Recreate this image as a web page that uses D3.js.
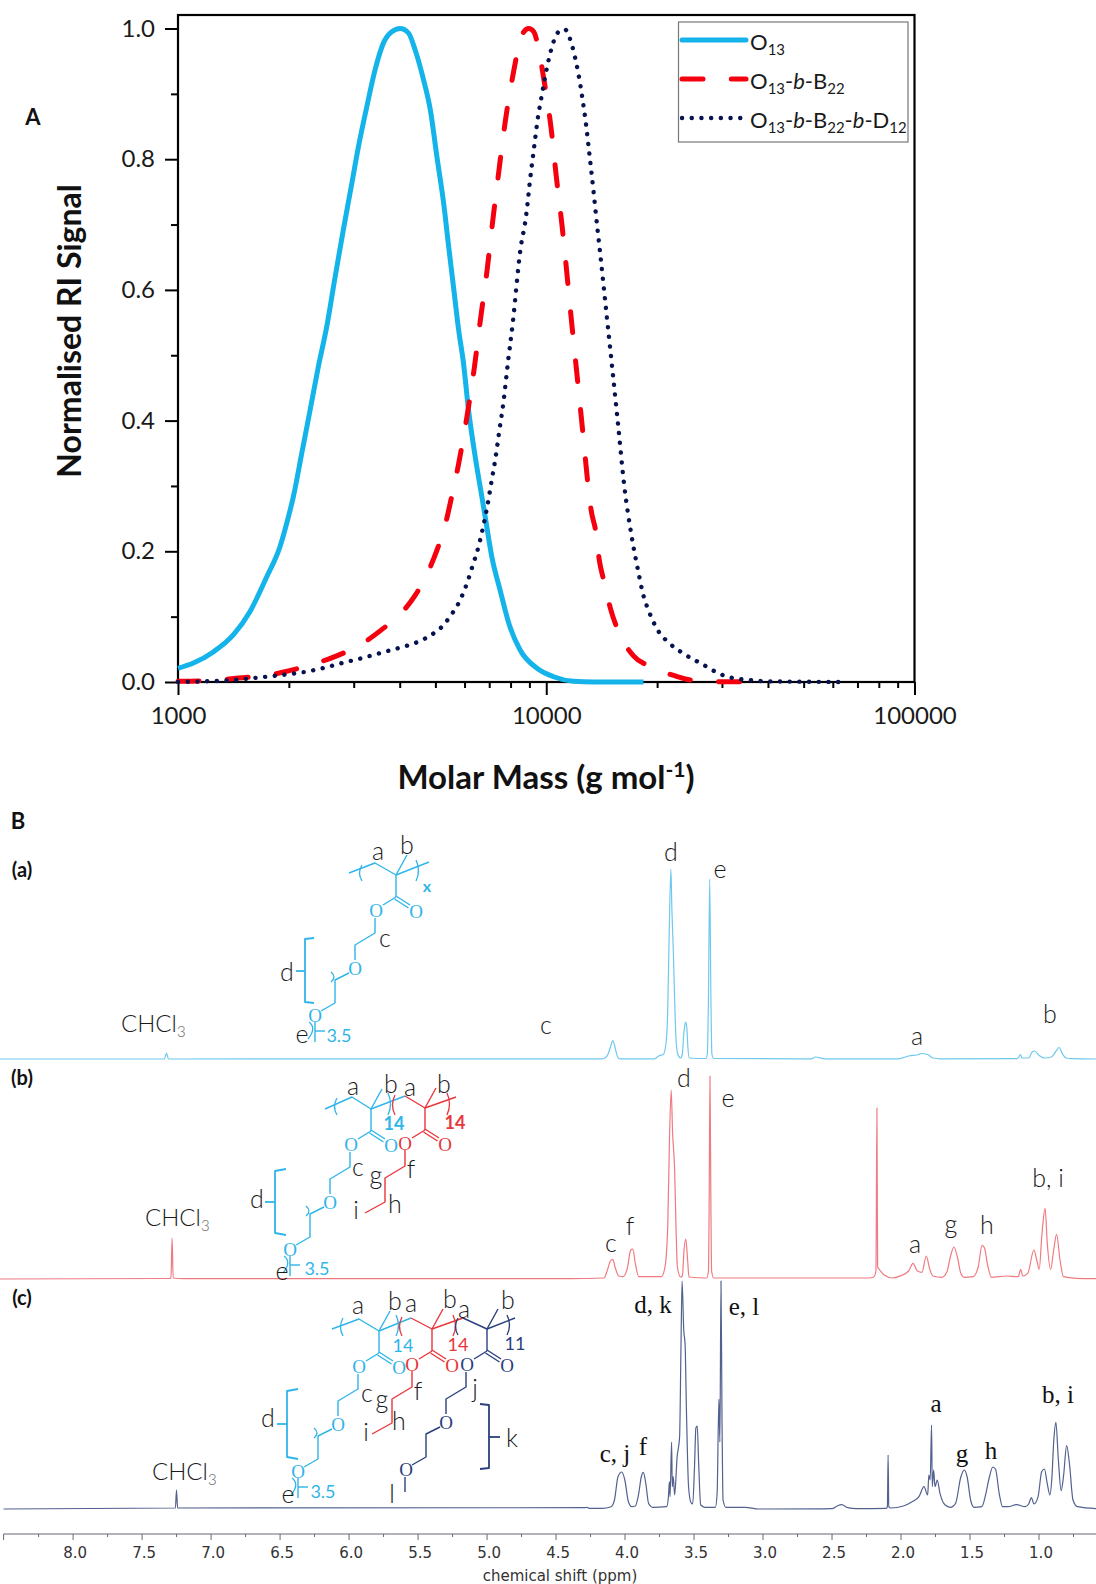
<!DOCTYPE html>
<html>
<head>
<meta charset="utf-8">
<title>SEC traces and NMR spectra</title>
<script src="https://cdn.jsdelivr.net/npm/d3@7"></script>
<style>
  html, body { margin: 0; padding: 0; background: #fff; }
  svg { display: block; font-family: Lato, "Open Sans", sans-serif; }
</style>
</head>
<body>
<div id="chart"></div>
<script>
// panel A - molar mass distributions
const massO13 = [1000, 1101, 1247, 1413, 1569, 1742, 1892, 1995, 2058, 2168, 2284, 2406, 2535, 2671, 2812, 2965, 3090, 3258, 3430, 3614, 3806, 4010, 4227, 4406, 4645, 4842, 5047, 5264, 5433, 5598, 5781, 5960, 6152, 6412, 6683, 6839, 7112, 7499, 7943, 8492, 9441, 10470, 11858, 13459, 18365];
const signalO13 = [0.021, 0.029, 0.046, 0.072, 0.108, 0.161, 0.207, 0.253, 0.284, 0.350, 0.416, 0.483, 0.544, 0.620, 0.692, 0.763, 0.819, 0.881, 0.937, 0.978, 0.995, 1.000, 0.993, 0.967, 0.921, 0.876, 0.804, 0.733, 0.666, 0.605, 0.539, 0.488, 0.416, 0.345, 0.284, 0.250, 0.192, 0.140, 0.087, 0.049, 0.021, 0.008, 0.001, 0, 0];

const massB22 = [1000, 1274, 1459, 1742, 1995, 2382, 2698, 3189, 3553, 4093, 4423, 4790, 5043, 5316, 5483, 5768, 6086, 6375, 6632, 6914, 7161, 7436, 7740, 8147, 8400, 8630, 8954, 9250, 9441, 9840, 10300, 10650, 11040, 11750, 12100, 12620, 12970, 13240, 13650, 13930, 14380, 14930, 15630, 17260, 19050, 22180, 25400, 29900, 34700];
const signalB22 = [0.001, 0.003, 0.006, 0.010, 0.017, 0.029, 0.040, 0.060, 0.079, 0.109, 0.134, 0.170, 0.201, 0.240, 0.273, 0.331, 0.405, 0.480, 0.556, 0.632, 0.707, 0.782, 0.858, 0.933, 0.970, 0.992, 1.000, 0.995, 0.980, 0.924, 0.849, 0.773, 0.698, 0.544, 0.474, 0.372, 0.304, 0.263, 0.228, 0.187, 0.152, 0.113, 0.080, 0.040, 0.024, 0.010, 0.002, 0.0005, 0.0005];

const massD12 = [1000, 1183, 1413, 1603, 1932, 2188, 2466, 2786, 3133, 3524, 3972, 4467, 4989, 5260, 5458, 5808, 6082, 6310, 6546, 6730, 6902, 7112, 7268, 7464, 7656, 7870, 8110, 8500, 8810, 9057, 9268, 9487, 9683, 10140, 10470, 10760, 11220, 11570, 11960, 12250, 12500, 12820, 13090, 13450, 13800, 13990, 14350, 15630, 16290, 17020, 17820, 18270, 18970, 20000, 21730, 23990, 26790, 29720, 31620, 35480, 39800, 49000, 63100];
const signalD12 = [0, 0.001, 0.003, 0.006, 0.011, 0.015, 0.021, 0.029, 0.036, 0.044, 0.052, 0.061, 0.076, 0.087, 0.099, 0.123, 0.150, 0.178, 0.207, 0.236, 0.266, 0.309, 0.340, 0.386, 0.429, 0.489, 0.549, 0.660, 0.712, 0.773, 0.818, 0.863, 0.892, 0.951, 0.980, 0.994, 0.999, 0.986, 0.957, 0.928, 0.898, 0.854, 0.809, 0.749, 0.689, 0.659, 0.600, 0.400, 0.300, 0.226, 0.166, 0.137, 0.109, 0.081, 0.058, 0.041, 0.026, 0.012, 0.007, 0.003, 0.001, 0.0005, 0];

const massMajorTicks = [1000, 10000, 100000];
const massMinorTicks = [2000, 3000, 4000, 5000, 6000, 7000, 8000, 9000, 20000, 30000, 40000, 50000, 60000, 70000, 80000, 90000];
const signalMajorTicks = [0, 0.2, 0.4, 0.6, 0.8, 1.0];
const signalMinorTicks = [0.1, 0.3, 0.5, 0.7, 0.9];

// panel B - 1H NMR traces, ppm against peak height
const ppmA = [8.53, 7.335, 7.32, 7.305, 4.162, 4.136, 4.116, 4.098, 4.086, 4.073, 4.061, 4.048, 4.035, 3.783, 3.753, 3.72, 3.70, 3.687, 3.677, 3.664, 3.657, 3.647, 3.637, 3.627, 3.614, 3.594, 3.581, 3.571, 3.564, 3.556, 3.548, 3.541, 3.531, 3.41, 3.40, 3.392, 3.383, 3.374, 3.367, 3.354, 2.648, 2.617, 2.547, 2.017, 1.941, 1.866, 1.853, 1.803, 1.765, 1.714, 1.159, 1.142, 1.131, 1.119, 1.071, 1.046, 1.028, 0.995, 0.957, 0.907, 0.877, 0.851, 0.826, 0.801, 0.756, 0.58];
const intA = [0, 0, 5.7, 0, 0.2, 1.5, 6, 14, 18.5, 14, 7, 1.5, 0.2, 0.2, 3, 4.5, 15, 50, 120, 190, 150, 110, 60, 20, 5, 1, 5, 25, 33, 37, 30, 12, 1, 0.5, 5, 60, 180, 60, 5, 0.5, 0.2, 2, 0.2, 0.2, 3, 4.5, 5.5, 4.5, 1, 0.2, 0.3, 2, 4.5, 1, 1, 7, 8, 3.5, 1, 2, 7, 11.5, 5, 1, 0.3, 0];

const ppmB = [8.53, 7.30, 7.287, 7.279, 7.271, 7.2, 4.4, 4.149, 4.124, 4.106, 4.086, 4.066, 4.043, 4.010, 3.980, 3.955, 3.940, 3.922, 3.897, 3.733, 3.707, 3.687, 3.675, 3.662, 3.652, 3.637, 3.627, 3.617, 3.594, 3.581, 3.569, 3.556, 3.543, 3.533, 3.405, 3.392, 3.387, 3.381, 3.374, 3.369, 3.354, 2.231, 2.194, 2.178, 2.171, 2.166, 2.156, 2.118, 2.055, 2.004, 1.941, 1.909, 1.878, 1.845, 1.813, 1.790, 1.765, 1.702, 1.664, 1.639, 1.613, 1.588, 1.563, 1.538, 1.475, 1.437, 1.409, 1.391, 1.371, 1.341, 1.235, 1.147, 1.129, 1.114, 1.078, 1.033, 1.013, 0.995, 0.975, 0.952, 0.937, 0.912, 0.889, 0.869, 0.844, 0.819, 0.730, 0.58];
const intB = [0, 0.5, 1, 40.7, 1, 0.3, 0.3, 1, 9, 17, 19.7, 10.7, 3, 2.3, 10.7, 29, 30, 15.7, 2.3, 2.3, 12, 52, 135, 189, 147, 109, 52, 12, 2, 3, 29, 40, 19, 2, 1, 8, 70, 203, 70, 8, 1, 1, 2, 8, 171, 12, 10, 4, 1, 3, 8, 15.7, 8, 6.6, 23, 10.7, 3, 1.7, 7, 22, 32, 22, 5.7, 1.7, 2.3, 12, 33.7, 31, 15.7, 1.7, 3, 2.3, 9.7, 3, 5.7, 29, 19, 9.7, 45, 70.7, 37, 9.7, 30, 44.7, 19, 2.3, 0.7, 0.3];

const ppmC = [8.5, 7.255, 7.247, 7.239, 4.288, 4.273, 4.257, 4.162, 4.098, 4.073, 4.048, 4.020, 3.998, 3.972, 3.947, 3.922, 3.897, 3.879, 3.864, 3.846, 3.826, 3.796, 3.695, 3.682, 3.675, 3.670, 3.659, 3.654, 3.647, 3.637, 3.619, 3.601, 3.591, 3.583, 3.571, 3.561, 3.551, 3.536, 3.518, 3.506, 3.493, 3.483, 3.473, 3.463, 3.448, 3.417, 3.342, 3.329, 3.316, 3.309, 3.301, 3.294, 3.286, 3.266, 3.127, 3.026, 2.496, 2.459, 2.426, 2.383, 2.320, 2.105, 2.095, 2.090, 2.085, 2.072, 1.979, 1.916, 1.866, 1.830, 1.803, 1.795, 1.785, 1.775, 1.770, 1.760, 1.750, 1.734, 1.714, 1.676, 1.639, 1.601, 1.563, 1.538, 1.517, 1.492, 1.467, 1.411, 1.381, 1.356, 1.331, 1.311, 1.285, 1.260, 1.222, 1.159, 1.096, 1.071, 1.051, 1.033, 1.003, 0.977, 0.957, 0.937, 0.917, 0.904, 0.889, 0.874, 0.856, 0.836, 0.819, 0.796, 0.776, 0.750, 0.718, 0.58];
const intC = [0, 1, 19, 1, 1.3, 1.7, 0.7, 0.7, 2.3, 9, 32, 37, 29, 7.3, 2.3, 3, 15.7, 32, 36.7, 25.7, 5.7, 1.7, 2.3, 12.3, 27.3, 12.3, 67, 22.3, 32.3, 14, 52, 72, 162, 228, 179, 164, 96, 22, 6.3, 5, 42, 81, 83, 46, 4, 1.7, 1.7, 15.7, 110, 67, 228, 96, 9, 1.7, 1.7, 0, 0.3, 3, 4.3, 1.3, 0.3, 0.7, 2.3, 54, 2.3, 1, 3, 7.3, 12.3, 22.3, 14, 34, 29, 84, 22.3, 39, 22.3, 29, 15.7, 4, 1.7, 5.7, 32, 39, 32, 9, 1.7, 2.3, 15.7, 32, 42, 39.7, 15.7, 2.3, 2.3, 4.3, 2.3, 5, 11.3, 5, 12.3, 37.3, 40, 25.7, 14, 29, 69, 86.7, 49, 18.3, 32.3, 63.3, 45.7, 9, 2.3, 0.3];

const ppmMajorTicks = [8.0, 7.5, 7.0, 6.5, 6.0, 5.5, 5.0, 4.5, 4.0, 3.5, 3.0, 2.5, 2.0, 1.5, 1.0];
const ppmMinorTicks = [8.25, 7.75, 7.25, 6.75, 6.25, 5.75, 5.25, 4.75, 4.25, 3.75, 3.25, 2.75, 2.25, 1.75, 1.25, 0.75];

const colors = { o: "#14b4ea", b: "#f5000f", d: "#06134f" };
const blue = "#2fb5ea", red = "#e8363c", navy = "#2b3f7e";

const svg = d3.select("#chart").append("svg").attr("width", 1096).attr("height", 1584);

// small helpers for text and for the drawn structures
function label(x, y, str, o = {}) {
  return svg.append("text").attr("x", x).attr("y", y)
    .attr("text-anchor", o.anchor || "middle")
    .attr("dominant-baseline", "central")
    .attr("font-size", o.size || 25)
    .attr("font-weight", o.weight || 300)
    .style("font-family", o.family || null)
    .attr("fill", o.color || "#1a1a1a")
    .text(str);
}

// parts: [text, "sub"|"i"|null]
function rich(x, y, parts, size, fill) {
  const t = svg.append("text").attr("x", x).attr("y", y).attr("font-size", size).attr("fill", fill || "#222");
  let shifted = false;
  parts.forEach(([s, kind]) => {
    const span = t.append("tspan").text(s);
    if (kind === "sub") {
      span.attr("font-size", size * 0.68).attr("dy", shifted ? null : 5);
      shifted = true;
    } else {
      if (shifted) span.attr("dy", -5);
      shifted = false;
      if (kind === "i") span.attr("font-style", "italic");
    }
  });
  return t;
}

const seg = d3.line();
function poly(points, color, w = 1.4) {
  svg.append("path").attr("d", seg(points)).attr("fill", "none")
    .attr("stroke", color).attr("stroke-width", w).attr("stroke-linejoin", "round");
}
function paren(x, y0, y1, bulge, color) {
  svg.append("path").attr("d", `M${x},${y0}Q${x + bulge},${(y0 + y1) / 2} ${x},${y1}`)
    .attr("fill", "none").attr("stroke", color).attr("stroke-width", 1.3);
}
function atomO(x, y, color) {
  label(x, y, "O", { size: 19, weight: 300, color, family: "Liberation Serif" });
}
function bracket(pts, tick, color) {
  poly(pts, color, 1.8);
  poly(tick, color, 1.8);
}

// quaternary carbon with methyl, ester C=O
function esterHead(qx, qy, color) {
  poly([[qx, qy], [qx + 11, qy - 20]], color);
  poly([[qx, qy], [qx, qy + 22]], color);
  poly([[qx, qy + 22], [qx - 13, qy + 30]], color);
  poly([[qx, qy + 21], [qx + 14, qy + 30]], color);
  poly([[qx - 1.5, qy + 24], [qx + 12.5, qy + 33]], color);
  atomO(qx - 20, qy + 35, color);
  atomO(qx + 20, qy + 36, color);
}

// oligo(ethylene glycol) side chain, blue and navy blocks
function peoArm(qx, qy, color) {
  esterHead(qx, qy, color);
  poly([[qx - 21, qy + 43], [qx - 21, qy + 58], [qx - 41, qy + 70], [qx - 41, qy + 85]], color);
  atomO(qx - 41, qy + 93, color);
  poly([[qx - 47, qy + 98], [qx - 61, qy + 105], [qx - 61, qy + 128], [qx - 75, qy + 136]], color);
  atomO(qx - 81, qy + 140, color);
}
function repeatEnd(qx, qy, color) {
  paren(qx - 65, qy + 97, qy + 107, 6, color);
  poly([[qx - 81, qy + 147], [qx - 81, qy + 167]], color);
  svg.append("path").attr("d", `M${qx - 87},${qy + 147}Q${qx - 79},${qy + 153} ${qx - 88},${qy + 164}`)
    .attr("fill", "none").attr("stroke", color).attr("stroke-width", 1.3);
  poly([[qx - 81, qy + 156], [qx - 71, qy + 156]], color);
}
function buteneArm(qx, qy, color) {
  esterHead(qx, qy, color);
  poly([[qx - 20, qy + 42], [qx - 20, qy + 58], [qx - 40, qy + 70], [qx - 40, qy + 94], [qx - 60, qy + 105]], color);
}

// -------- panel A --------
const massScale = d3.scaleLog().domain([1000, 100000]).range([178, 914.5]);
const signalScale = d3.scaleLinear().domain([0, 1]).range([682, 28.5]);

const xMajor = d3.axisBottom(massScale).tickValues(massMajorTicks).tickSize(13).tickPadding(12).tickFormat(d3.format("d"));
const xMinor = d3.axisBottom(massScale).tickValues(massMinorTicks).tickSize(6).tickFormat("");
const yMajor = d3.axisLeft(signalScale).tickValues(signalMajorTicks).tickSize(13).tickPadding(10).tickSizeOuter(0).tickFormat(d3.format(".1f"));
const yMinor = d3.axisLeft(signalScale).tickValues(signalMinorTicks).tickSize(7).tickFormat("");

[[xMinor, "x"], [xMajor, "x"], [yMinor, "y"], [yMajor, "y"]].forEach(([axis, dir]) => {
  const g = svg.append("g")
    .attr("transform", dir === "x" ? "translate(0,682)" : "translate(178,0)")
    .call(axis);
  g.selectAll(".domain").remove();
  g.selectAll("line").attr("stroke", "#000").attr("stroke-width", 2);
  g.selectAll("text").attr("font-size", 24).attr("fill", "#1a1a1a").style("font-family", "Lato");
});

// frame of the plot
svg.append("rect").attr("x", 178).attr("y", 15).attr("width", 736.5).attr("height", 667)
  .attr("fill", "none").attr("stroke", "#000").attr("stroke-width", 2.2);

const massLine = d3.line().x(d => massScale(d[0])).y(d => signalScale(d[1])).curve(d3.curveMonotoneX);
const traces = [
  { mass: massO13, signal: signalO13, color: colors.o, width: 5, dash: null, cap: "butt" },
  { mass: massB22, signal: signalB22, color: colors.b, width: 5, dash: "21 28.3", cap: "round" },
  { mass: massD12, signal: signalD12, color: colors.d, width: 4.4, dash: "0.1 9.6", cap: "round" }
];
traces.forEach(t => {
  svg.append("path").attr("d", massLine(d3.zip(t.mass, t.signal))).attr("fill", "none")
    .attr("stroke", t.color).attr("stroke-width", t.width)
    .attr("stroke-dasharray", t.dash).attr("stroke-linecap", t.cap);
});

// legend
svg.append("rect").attr("x", 678.5).attr("y", 22).attr("width", 229.5).attr("height", 120)
  .attr("fill", "#fff").attr("stroke", "#777").attr("stroke-width", 1.2);
const legendRows = [
  [[["O"], ["13", "sub"]], traces[0], 40],
  [[["O"], ["13", "sub"], ["-"], ["b", "i"], ["-B"], ["22", "sub"]], traces[1], 79],
  [[["O"], ["13", "sub"], ["-"], ["b", "i"], ["-B"], ["22", "sub"], ["-"], ["b", "i"], ["-D"], ["12", "sub"]], traces[2], 118]
];
legendRows.forEach(([parts, t, y]) => {
  svg.append("line").attr("x1", 682).attr("x2", 746).attr("y1", y).attr("y2", y)
    .attr("stroke", t.color).attr("stroke-width", t.width)
    .attr("stroke-dasharray", t.dash).attr("stroke-linecap", "round");
  rich(750, y + 10, parts, 22, "#1a1a1a");
});

// axis titles
svg.append("text").attr("transform", "translate(68,331) rotate(-90)")
  .attr("text-anchor", "middle").attr("dominant-baseline", "central")
  .attr("font-size", 32).attr("font-weight", 700).attr("fill", "#111").text("Normalised RI Signal");
const massTitle = svg.append("text").attr("x", 546).attr("y", 789)
  .attr("text-anchor", "middle").attr("font-size", 33).attr("font-weight", 700).attr("fill", "#111");
massTitle.append("tspan").text("Molar Mass (g mol");
massTitle.append("tspan").attr("font-size", 21).attr("dy", -12).text("-1");
massTitle.append("tspan").attr("dy", 12).text(")");

label(33, 116, "A", { size: 22, weight: 700, color: "#111" });
label(18, 820, "B", { size: 22, weight: 700, color: "#111" });
label(22, 869, "(a)", { size: 20, weight: 700, color: "#111" });
label(22, 1077, "(b)", { size: 20, weight: 700, color: "#111" });
label(22, 1297, "(c)", { size: 20, weight: 700, color: "#111" });

// -------- panel B --------
const ppmScale = d3.scaleLinear().domain([8, 1]).range([72.6, 1038.5]);
const spectra = [
  { ppm: ppmA, int: intA, base: 1059, color: "#6fc9ee" },
  { ppm: ppmB, int: intB, base: 1279, color: "#f07a80" },
  { ppm: ppmC, int: intC, base: 1509, color: "#52618f" }
];
spectra.forEach(s => {
  const y = d3.scaleLinear().domain([0, 100]).range([s.base, s.base - 100]);
  const line = d3.line().x(d => ppmScale(d[0])).y(d => y(d[1])).curve(d3.curveMonotoneX);
  svg.append("path").attr("d", line(d3.zip(s.ppm, s.int))).attr("fill", "none")
    .attr("stroke", s.color).attr("stroke-width", 1.2);
});

const ppmMajor = d3.axisBottom(ppmScale).tickValues(ppmMajorTicks).tickSize(6).tickPadding(7).tickFormat(d3.format(".1f"));
const ppmMinor = d3.axisBottom(ppmScale).tickValues(ppmMinorTicks).tickSize(3).tickFormat("");
[ppmMinor, ppmMajor].forEach(axis => {
  const g = svg.append("g").attr("transform", "translate(0,1534)").call(axis);
  g.selectAll(".domain").remove();
  g.selectAll("line").attr("stroke", "#667").attr("stroke-width", 1);
  g.selectAll("text").attr("font-size", 15).attr("fill", "#333").style("font-family", "DejaVu Sans").attr("dx", 2);
});
svg.append("line").attr("x1", 3.6).attr("x2", 1096).attr("y1", 1534).attr("y2", 1534).attr("stroke", "#667").attr("stroke-width", 1);
svg.append("line").attr("x1", 3.6).attr("x2", 3.6).attr("y1", 1534).attr("y2", 1540).attr("stroke", "#667").attr("stroke-width", 1);
svg.append("text").attr("x", 560).attr("y", 1581).attr("text-anchor", "middle")
  .attr("font-size", 15).style("font-family", "DejaVu Sans").attr("fill", "#333").text("chemical shift (ppm)");

// CHCl3 labels
[[121, 1032], [145, 1226], [152, 1480]].forEach(([x, y]) => {
  const t = svg.append("text").attr("x", x).attr("y", y).attr("font-size", 24).attr("font-weight", 300).attr("fill", "#1a1a1a");
  t.append("tspan").text("CHCl");
  t.append("tspan").attr("font-size", 15).attr("dy", 5).attr("fill", "#666").text("3");
});

// structure (a)
poly([[349, 873], [375, 863], [396, 875], [429, 862]], blue);
paren(362, 865, 881, -5, blue);
paren(416, 860, 881, 5, blue);
peoArm(396, 875, blue);
repeatEnd(396, 875, blue);
bracket([[314, 938], [305, 939], [305, 1002], [314, 1003]], [[296, 971], [305, 971]], blue);
label(287, 971, "d");
label(339, 1035, "3.5", { size: 18, weight: 400, color: blue });
label(427, 885, "x", { size: 16, weight: 700, color: blue });
[[378, 850, "a"], [407, 844, "b"], [385, 937, "c"], [302, 1033, "e"], [546, 1024, "c"], [671, 851, "d"], [720, 868, "e"], [917, 1035, "a"], [1050, 1013, "b"]]
  .forEach(d => label(d[0], d[1], d[2]));

// structure (b)
poly([[325, 1109], [352, 1097], [371, 1109], [405, 1096]], blue);
poly([[405, 1096], [425, 1108], [456, 1097]], red);
paren(337, 1098, 1115, -5, blue);
paren(388, 1093, 1115, 5, blue);
paren(395, 1095, 1115, -5, red);
paren(447, 1093, 1115, 5, red);
peoArm(371, 1109, blue);
repeatEnd(371, 1109, blue);
buteneArm(425, 1108, red);
bracket([[286, 1169], [275, 1171], [275, 1233], [286, 1235]], [[265, 1202], [275, 1202]], blue);
label(317, 1268, "3.5", { size: 18, weight: 400, color: blue });
label(394, 1123, "14", { size: 18, weight: 700, color: blue });
label(455, 1122, "14", { size: 18, weight: 700, color: red });
[[353, 1085, "a"], [391, 1083, "b"], [410, 1086, "a"], [444, 1083, "b"], [358, 1166, "c"], [376, 1174, "g"], [411, 1168, "f"], [395, 1203, "h"], [356, 1209, "i"], [257, 1198, "d"], [282, 1270, "e"],
 [684, 1077, "d"], [728, 1097, "e"], [611, 1242, "c"], [630, 1225, "f"], [915, 1243, "a"], [951, 1223, "g"], [987, 1224, "h"], [1048, 1177, "b, i"]]
  .forEach(d => label(d[0], d[1], d[2]));

// structure (c)
poly([[332, 1329], [359, 1319], [379, 1331], [411, 1318]], blue);
poly([[411, 1318], [432, 1329], [463, 1318]], red);
poly([[463, 1318], [487, 1329], [515, 1318]], navy);
paren(343, 1318, 1336, -5, blue);
paren(396, 1315, 1336, 5, blue);
paren(402, 1317, 1336, -5, red);
paren(453, 1315, 1336, 5, red);
paren(458, 1318, 1335, -5, navy);
paren(507, 1315, 1335, 5, navy);
peoArm(379, 1331, blue);
repeatEnd(379, 1331, blue);
buteneArm(432, 1329, red);
peoArm(487, 1329, navy);
poly([[405, 1477], [405, 1492]], navy);
bracket([[298, 1389], [287, 1391], [287, 1457], [298, 1459]], [[277, 1424], [287, 1424]], blue);
bracket([[480, 1404], [489, 1405], [489, 1468], [480, 1469]], [[489, 1437], [500, 1437]], navy);
label(323, 1491, "3.5", { size: 18, weight: 400, color: blue });
label(403, 1345, "14", { size: 18, weight: 400, color: blue });
label(458, 1344, "14", { size: 18, weight: 400, color: red });
label(515, 1343, "11", { size: 18, weight: 400, color: navy });
[[358, 1304, "a"], [395, 1300, "b"], [411, 1302, "a"], [450, 1298, "b"], [464, 1308, "a"], [508, 1299, "b"], [367, 1392, "c"], [382, 1398, "g"], [418, 1390, "f"], [399, 1420, "h"], [366, 1431, "i"], [268, 1417, "d"], [288, 1493, "e"], [475, 1387, "j"], [512, 1437, "k"], [392, 1493, "l"]]
  .forEach(d => label(d[0], d[1], d[2]));

[[653, 1304, "d, k"], [744, 1306, "e, l"], [615, 1453, "c, j"], [643, 1446, "f"], [936, 1403, "a"], [962, 1453, "g"], [991, 1450, "h"], [1058, 1394, "b, i"]]
  .forEach(d => label(d[0], d[1], d[2], { family: "Liberation Serif", weight: 400, size: 25, color: "#111" }));
</script>
</body>
</html>
